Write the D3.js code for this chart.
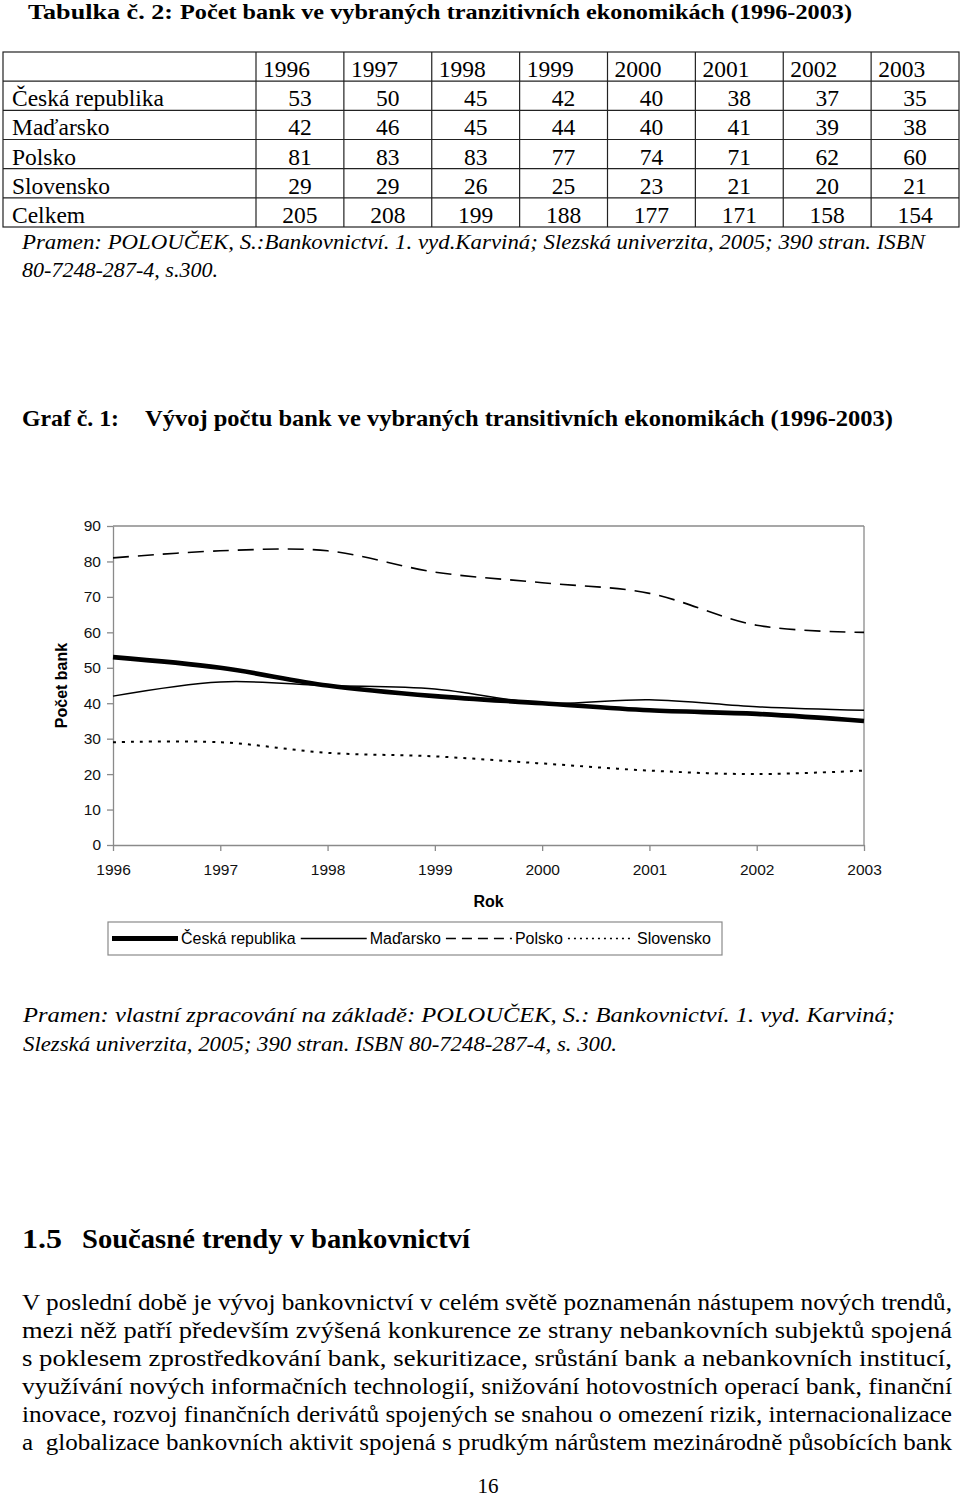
<!DOCTYPE html>
<html>
<head>
<meta charset="utf-8">
<script src="https://cdn.jsdelivr.net/npm/d3@7/dist/d3.min.js"></script>
<style>
  body { margin: 0; background: #fff; }
  text { white-space: pre; }
</style>
</head>
<body>
<svg id="page" width="960" height="1499"></svg>
<script>
const years = [1996, 1997, 1998, 1999, 2000, 2001, 2002, 2003];
const countries = ["Česká republika", "Maďarsko", "Polsko", "Slovensko"];
const czValues = [53, 50, 45, 42, 40, 38, 37, 35];
const huValues = [42, 46, 45, 44, 40, 41, 39, 38];
const plValues = [81, 83, 83, 77, 74, 71, 62, 60];
const skValues = [29, 29, 26, 25, 23, 21, 20, 21];
const totalValues = [205, 208, 199, 188, 177, 171, 158, 154];
const yTicks = [0, 10, 20, 30, 40, 50, 60, 70, 80, 90];

const paragraph = [
  "V poslední době je vývoj bankovnictví v celém světě poznamenán nástupem nových trendů,",
  "mezi něž patří především zvýšená konkurence ze strany nebankovních subjektů spojená",
  "s poklesem zprostředkování bank, sekuritizace, srůstání bank a nebankovních institucí,",
  "využívání nových informačních technologií, snižování hotovostních operací bank, finanční",
  "inovace, rozvoj finančních derivátů spojených se snahou o omezení rizik, internacionalizace",
  "a  globalizace bankovních aktivit spojená s prudkým nárůstem mezinárodně působících bank"
];

const serif = "Liberation Serif, Times New Roman, serif";
const sans = "Liberation Sans, Arial, sans-serif";
const svg = d3.select("#page");

function txt(x, y, s, size, opts) {
  opts = opts || {};
  const t = svg.append("text")
    .attr("x", x).attr("y", y)
    .attr("font-family", opts.family || serif)
    .attr("font-size", size)
    .attr("font-weight", opts.bold ? "bold" : null)
    .attr("font-style", opts.italic ? "italic" : null)
    .attr("fill", "#000")
    .text(s);
  if (opts.width) t.attr("textLength", opts.width).attr("lengthAdjust", "spacingAndGlyphs");
  return t;
}

// ---- table
txt(28, 19, "Tabulka č. 2:", 21, {bold: true, width: 145});
txt(180, 19, "Počet bank ve vybraných tranzitivních ekonomikách (1996-2003)", 21, {bold: true, width: 672});

const rowKeys = ["head"].concat(countries, ["Celkem"]);
const rowData = [null, czValues, huValues, plValues, skValues, totalValues];
const colX = d3.scaleBand().domain(years).range([256, 959]);
const rowY = d3.scaleBand().domain(rowKeys).range([52, 227]);

const table = svg.append("g");
table.append("rect").attr("x", 3).attr("y", 52).attr("width", 956).attr("height", 175)
  .attr("fill", "none").attr("stroke", "#222").attr("stroke-width", 1.2);
table.selectAll("line.row").data(rowKeys.slice(1)).enter().append("line")
  .attr("x1", 3).attr("x2", 959)
  .attr("y1", d => rowY(d)).attr("y2", d => rowY(d))
  .attr("stroke", "#222").attr("stroke-width", 1.2);
table.selectAll("line.col").data(years).enter().append("line")
  .attr("y1", 52).attr("y2", 227)
  .attr("x1", d => colX(d)).attr("x2", d => colX(d))
  .attr("stroke", "#222").attr("stroke-width", 1.2);

table.selectAll("text.year").data(years).enter().append("text")
  .attr("x", d => colX(d) + 7).attr("y", rowY("head") + 25)
  .attr("font-family", serif).attr("font-size", 23.5).text(d => d);

rowKeys.slice(1).forEach((key, i) => {
  table.append("text").attr("x", 12).attr("y", rowY(key) + 25)
    .attr("font-family", serif).attr("font-size", 23.5).text(key);
  table.selectAll(null).data(rowData[i + 1]).enter().append("text")
    .attr("x", (d, j) => colX(years[j]) + colX.bandwidth() / 2)
    .attr("y", rowY(key) + 25)
    .attr("text-anchor", "middle")
    .attr("font-family", serif).attr("font-size", 23.5).text(d => d);
});

txt(22, 249, "Pramen: POLOUČEK, S.:Bankovnictví. 1. vyd.Karviná; Slezská univerzita, 2005; 390 stran. ISBN", 21, {italic: true, width: 903});
txt(22, 277, "80-7248-287-4, s.300.", 21, {italic: true, width: 196});

// ---- chart
txt(22, 426, "Graf č. 1:", 24, {bold: true, width: 97});
txt(145, 426, "Vývoj počtu bank ve vybraných transitivních ekonomikách (1996-2003)", 24, {bold: true, width: 748});

const plotL = 113, plotR = 864, plotT = 526, plotB = 845;
const x = d3.scalePoint().domain(years).range([plotL, plotR]);
const y = d3.scaleLinear().domain([0, 90]).range([plotB, plotT]);
const axisGray = "#8a8a8a";

const chart = svg.append("g");
chart.append("line").attr("x1", plotL).attr("x2", plotR).attr("y1", plotT).attr("y2", plotT)
  .attr("stroke", axisGray).attr("stroke-width", 1.3);
chart.append("line").attr("x1", plotR).attr("x2", plotR).attr("y1", plotT).attr("y2", plotB)
  .attr("stroke", axisGray).attr("stroke-width", 1.3);

const yAxis = chart.append("g").attr("transform", `translate(${plotL},0)`)
  .call(d3.axisLeft(y).tickValues(yTicks).tickSize(6).tickPadding(6).tickSizeOuter(0));
const xAxis = chart.append("g").attr("transform", `translate(0,${plotB})`)
  .call(d3.axisBottom(x).tickSize(6).tickPadding(13).tickSizeOuter(0));
[yAxis, xAxis].forEach(a => {
  a.selectAll("path, line").attr("stroke", axisGray).attr("stroke-width", 1.3);
  a.selectAll("text").attr("font-family", sans).attr("font-size", 15.5).attr("fill", "#111");
});

const styles = [
  {values: czValues, width: 4.6, dash: null},
  {values: huValues, width: 1.5, dash: null},
  {values: plValues, width: 1.6, dash: "16,9"},
  {values: skValues, width: 2, dash: "3,6"}
];
const line = d3.line()
  .x((d, i) => x(years[i]))
  .y(d => y(d))
  .curve(d3.curveCardinal.tension(0));
chart.selectAll("path.series").data(styles).enter().append("path")
  .attr("d", d => line(d.values))
  .attr("fill", "none").attr("stroke", "#000")
  .attr("stroke-width", d => d.width)
  .attr("stroke-dasharray", d => d.dash);

svg.append("text")
  .attr("transform", `translate(67,${(plotT + plotB) / 2}) rotate(-90)`)
  .attr("text-anchor", "middle")
  .attr("font-family", sans).attr("font-size", 16).attr("font-weight", "bold")
  .text("Počet bank");
svg.append("text").attr("x", (plotL + plotR) / 2).attr("y", 907)
  .attr("text-anchor", "middle")
  .attr("font-family", sans).attr("font-size", 16).attr("font-weight", "bold")
  .text("Rok");

// legend
const legend = svg.append("g");
legend.append("rect").attr("x", 108).attr("y", 922).attr("width", 614).attr("height", 33)
  .attr("fill", "#fff").attr("stroke", axisGray).attr("stroke-width", 1.2);
const legendDash = [null, null, "10,6", "2,4"];
let lx = 112;
styles.forEach((s, i) => {
  legend.append("line").attr("x1", lx).attr("x2", lx + 66).attr("y1", 938.5).attr("y2", 938.5)
    .attr("stroke", "#000").attr("stroke-width", i === 0 ? 4.8 : 1.4)
    .attr("stroke-dasharray", legendDash[i]);
  const t = legend.append("text").attr("x", lx + 69).attr("y", 944)
    .attr("font-family", sans).attr("font-size", 16).text(countries[i]);
  lx += 69 + t.node().getComputedTextLength() + 5;
});

txt(23, 1022, "Pramen: vlastní zpracování na základě: POLOUČEK, S.: Bankovnictví. 1. vyd. Karviná;", 22, {italic: true, width: 872});
txt(23, 1051, "Slezská univerzita, 2005; 390 stran. ISBN 80-7248-287-4, s. 300.", 22, {italic: true, width: 594});

// ---- section text
txt(22, 1248, "1.5", 28, {bold: true, width: 40});
txt(82, 1248, "Současné trendy v bankovnictví", 28, {bold: true, width: 388});

svg.selectAll("text.para").data(paragraph).enter().append("text")
  .attr("x", 22).attr("y", (d, i) => 1310 + i * 28)
  .attr("font-family", serif).attr("font-size", 23)
  .attr("textLength", 930).attr("lengthAdjust", "spacingAndGlyphs")
  .text(d => d);

txt(488, 1493, "16", 21, {}).attr("text-anchor", "middle");
</script>
</body>
</html>
